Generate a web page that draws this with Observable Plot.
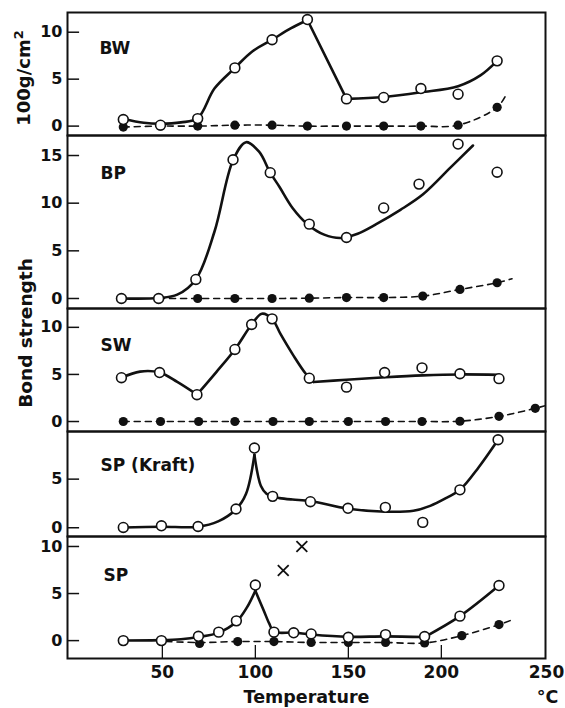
<!DOCTYPE html>
<html>
<head>
<meta charset="utf-8">
<script src="https://cdn.jsdelivr.net/npm/d3@7"></script>
<script src="https://cdn.jsdelivr.net/npm/@observablehq/plot@0.6"></script>
<style>
  html, body { margin: 0; padding: 0; background: #fff; }
  #wrap { position: relative; width: 565px; height: 708px; overflow: hidden; }
  #wrap svg { display: block; }
  .ylab { position: absolute; white-space: nowrap; font-family: "DejaVu Sans", sans-serif;
          font-weight: bold; color: #111; transform: translate(-50%, -50%) rotate(-90deg); }
</style>
</head>
<body>
<div id="wrap"></div>
<script>
// ---------- data ----------
const xTicks = [50, 100, 150, 200];
const xLastTick = "250";
const xUnit = "°C";
const xTitle = "Temperature";
const yTitle = "Bond strength";
const yUnit = "100g/cm";

// BW
const bwT      = [29, 49, 69, 89, 109, 128, 149, 169, 189, 209, 230];
const bwOpen   = [0.7, 0.1, 0.8, 6.2, 9.2, 11.35, 2.9, 3.05, 4.0, 3.4, 6.95];
const bwFT     = [29, 49, 69, 89, 109, 128, 149, 169, 189, 209, 230];
const bwFilled = [-0.1, 0, 0, 0.1, 0.1, 0, 0, 0, 0, 0.1, 2.0];
const bwDashT  = [29, 49, 69, 89, 109, 128, 149, 169, 189, 209, 230, 235];
const bwDashV  = [-0.1, 0, 0, 0.1, 0.1, 0, 0, 0, 0, 0.1, 2.0, 3.4];
const bwCurve = [
  {seg: "a", t: [29, 40, 49, 60, 69, 78, 89, 98, 109, 119, 128], v: [0.75, 0.35, 0.25, 0.4, 0.85, 4.0, 6.2, 7.9, 9.2, 10.4, 11.3]},
  {seg: "b", t: [128, 149], v: [11.3, 2.9]},
  {seg: "c", t: [149, 169, 189, 209, 221, 230], v: [2.9, 3.1, 3.6, 4.25, 5.4, 6.95]}
];

// BP
const bpT      = [28, 48, 68, 88, 108, 129, 149, 169, 188, 209, 230];
const bpOpen   = [0, 0, 2.0, 14.55, 13.2, 7.8, 6.4, 9.5, 12.0, 16.2, 13.25];
const bpFT     = [69, 89, 109, 129, 149, 169, 190, 210, 230];
const bpFilled = [0, 0, 0, 0.03, 0.1, 0.1, 0.25, 0.95, 1.65];
const bpDashT  = [48, 69, 89, 109, 129, 149, 169, 190, 210, 230, 238];
const bpDashV  = [0, 0, 0, 0, 0.03, 0.1, 0.1, 0.25, 0.95, 1.65, 2.07];
const bpCurve = [
  {seg: "a", t: [28, 48, 58, 68, 78, 88, 95, 102, 108, 113, 120, 128, 137, 146, 155, 165, 178, 190, 205, 217],
             v: [0, 0.05, 0.4, 2.0, 7.0, 14.5, 16.4, 15.4, 13.2, 11.7, 9.5, 7.8, 6.7, 6.35, 6.8, 7.8, 9.3, 10.9, 13.75, 16.05]}
];

// SW
const swT      = [28, 48.5, 68.6, 89, 98, 109, 129, 149, 169.5, 189.6, 210, 231];
const swOpen   = [4.65, 5.2, 2.85, 7.65, 10.3, 10.9, 4.6, 3.65, 5.2, 5.7, 5.07, 4.55];
const swFT     = [29, 49, 69.5, 89, 109.5, 129, 150, 170, 189.6, 210, 231, 250.5];
const swFilled = [0, 0, 0, 0, 0, 0, 0, 0, 0, 0.03, 0.55, 1.4];
const swDashT  = [29, 49, 69.5, 89, 109.5, 129, 150, 170, 189.6, 210, 231, 250.5, 258];
const swDashV  = [0, 0, 0, 0, 0, 0, 0, 0, 0, 0.03, 0.55, 1.4, 1.8];
const swCurve = [
  {seg: "a", t: [28, 38, 48.5, 58, 68.6], v: [4.65, 5.3, 5.2, 4.2, 2.85]},
  {seg: "b", t: [68.6, 79, 89, 98, 103.5, 109, 113.5, 120.5, 127, 131.3], v: [2.85, 5.25, 7.65, 10.3, 11.45, 10.9, 9.3, 7.0, 5.1, 4.2]},
  {seg: "c", t: [131.3, 149, 170, 190, 210, 231], v: [4.2, 4.43, 4.7, 4.9, 5.0, 4.95]}
];

// SP (Kraft)
const kT    = [29, 49.5, 69.2, 89.6, 99.5, 109.3, 129.6, 149.8, 169.9, 190, 210, 230.5];
const kOpen = [0.03, 0.2, 0.13, 1.93, 8.2, 3.23, 2.68, 2.0, 2.1, 0.55, 3.9, 9.05];
const kCurve = [
  {seg: "a", t: [29, 49.5, 69.2, 80, 89.6, 95, 99.5], v: [0.03, 0.1, 0.1, 0.65, 1.9, 3.5, 7.5]},
  {seg: "b", t: [99.5, 103, 106, 109.3, 113, 120, 129.6, 150, 170, 185, 194, 203, 210, 220, 230.5],
             v: [7.5, 4.3, 3.5, 3.2, 3.05, 2.9, 2.75, 1.95, 1.65, 1.75, 2.25, 3.1, 3.9, 6.2, 9.05]}
];

// SP
const spT      = [29, 49.5, 69.4, 80.3, 89.8, 100, 110, 120.6, 130, 150, 170, 191, 210, 231];
const spOpen   = [0, 0, 0.46, 0.9, 2.1, 5.9, 0.9, 0.83, 0.71, 0.35, 0.64, 0.43, 2.6, 5.85];
const spFT     = [70, 90.5, 110, 130, 150, 170, 191, 211, 231];
const spFilled = [-0.3, -0.1, -0.1, -0.2, -0.2, -0.2, -0.25, 0.53, 1.7];
const spDashT  = [52, 70, 90.5, 110, 130, 150, 170, 191, 211, 231, 238];
const spDashV  = [-0.1, -0.2, -0.1, -0.1, -0.2, -0.2, -0.2, -0.25, 0.53, 1.7, 2.2];
const spCrossT = [115, 125];
const spCross  = [7.45, 10.0];
const spCurve = [
  {seg: "a", t: [29, 49.5, 60, 69.4, 80.3, 89.8, 95.4, 100], v: [0.02, 0.05, 0.15, 0.38, 0.85, 2.0, 3.5, 5.3]},
  {seg: "b", t: [100, 104.5, 107.5, 110, 120.6, 130, 150, 170, 191], v: [5.3, 3.2, 1.8, 0.95, 0.85, 0.65, 0.4, 0.45, 0.38]},
  {seg: "c", t: [191, 210, 231], v: [0.38, 2.6, 5.85]}
];

// ---------- helpers ----------
const zip = (t, v) => t.map((x, i) => ({t: x, v: v[i]}));
const segs = (c) => c.flatMap(s => s.t.map((x, i) => ({seg: s.seg, t: x, v: s.v[i]})));

const INK = "#111";
const FONT = "'DejaVu Sans', sans-serif";
const xDomain = [-1, 256];

function panel({label, labelDx, labelDy, h, mt = 0, mb = 0, yDomain, yTicks, open, filled, dash, curve, cross, bottom}) {
  const marks = [
    Plot.frame({stroke: INK, strokeWidth: 2}),
    Plot.ruleY(yTicks, {y: d => d, x1: xDomain[0], x2: 5.5, stroke: INK, strokeWidth: 1.5}),
    Plot.axisY(yTicks, {tickSize: 0, tickPadding: 5, fontSize: 16, fontWeight: "bold", label: null, fill: INK}),
    Plot.text([label], {text: d => d, frameAnchor: "top-left", dx: labelDx, dy: labelDy, textAnchor: "start",
                        lineAnchor: "middle", fontSize: 17, fontWeight: "bold", fill: INK})
  ];
  if (dash) marks.push(Plot.line(dash, {x: "t", y: "v", curve: "catmull-rom", stroke: INK, strokeWidth: 1.6,
                                        strokeDasharray: "6,5", clip: true}));
  if (filled) marks.push(Plot.dot(filled, {x: "t", y: "v", r: 4.6, fill: INK, stroke: "none"}));
  marks.push(Plot.line(curve, {x: "t", y: "v", z: "seg", curve: "catmull-rom", stroke: INK, strokeWidth: 2.6}));
  marks.push(Plot.dot(open, {x: "t", y: "v", r: 4.9, fill: "white", stroke: INK, strokeWidth: 1.6}));
  if (cross) marks.push(Plot.dot(cross, {x: "t", y: "v", symbol: "times", r: 5, stroke: INK, strokeWidth: 1.8}));
  if (bottom) {
    marks.push(Plot.ruleX(xTicks, {x: d => d, y1: yDomain[0], y2: yDomain[0] + 1.38, stroke: INK, strokeWidth: 1.3}));
    marks.push(Plot.axisX(xTicks, {tickSize: 0, tickPadding: 7, fontSize: 17, fontWeight: "bold", label: null, fill: INK}));
    marks.push(Plot.text([xLastTick], {text: d => d, frameAnchor: "bottom-right", dx: 1, dy: 7, lineAnchor: "top",
                                       textAnchor: "middle", fontSize: 17, fontWeight: "bold", fill: INK}));
    marks.push(Plot.text([xTitle], {text: d => d, frameAnchor: "bottom", dy: 39, lineAnchor: "middle",
                                    fontSize: 17.5, fontWeight: "bold", fill: INK}));
    marks.push(Plot.text([xUnit], {text: d => d, frameAnchor: "bottom-right", dx: 2, dy: 39, lineAnchor: "middle",
                                   textAnchor: "middle", fontSize: 17.5, fontWeight: "bold", fill: INK}));
  }
  return Plot.plot({
    width: 565,
    height: h + mt + mb,
    marginLeft: 67, marginRight: 20, marginTop: mt, marginBottom: mb,
    x: bottom ? {domain: xDomain} : {domain: xDomain, axis: null},
    y: {domain: yDomain, label: null},
    style: {fontFamily: FONT, fontWeight: "bold", color: INK, background: "white", overflow: "visible"},
    marks
  });
}

const wrap = document.getElementById("wrap");
const panels = [
  panel({label: "BW", labelDx: 32, labelDy: 36, h: 123, mt: 12, yDomain: [-1, 12.1], yTicks: [0, 5, 10],
         open: zip(bwT, bwOpen), filled: zip(bwFT, bwFilled), dash: zip(bwDashT, bwDashV), curve: segs(bwCurve)}),
  panel({label: "BP", labelDx: 33, labelDy: 38, h: 173, yDomain: [-1.05, 17.1], yTicks: [0, 5, 10, 15],
         open: zip(bpT, bpOpen), filled: zip(bpFT, bpFilled), dash: zip(bpDashT, bpDashV), curve: segs(bpCurve)}),
  panel({label: "SW", labelDx: 33, labelDy: 37, h: 123, yDomain: [-1.06, 12.0], yTicks: [0, 5, 10],
         open: zip(swT, swOpen), filled: zip(swFT, swFilled), dash: zip(swDashT, swDashV), curve: segs(swCurve)}),
  panel({label: "SP (Kraft)", labelDx: 33, labelDy: 34, h: 105, yDomain: [-0.9, 9.9], yTicks: [0, 5],
         open: zip(kT, kOpen), curve: segs(kCurve)}),
  panel({label: "SP", labelDx: 36, labelDy: 39, h: 122, mb: 50, yDomain: [-1.9, 11.06], yTicks: [0, 5, 10],
         open: zip(spT, spOpen), filled: zip(spFT, spFilled), dash: zip(spDashT, spDashV), curve: segs(spCurve),
         cross: zip(spCrossT, spCross), bottom: true})
];
panels.forEach(p => wrap.appendChild(p));

const l1 = document.createElement("div");
l1.className = "ylab";
l1.style.left = "22px"; l1.style.top = "78px"; l1.style.fontSize = "18px";
l1.innerHTML = yUnit + "<sup style='font-size:13px'>2</sup>";
wrap.appendChild(l1);

const l2 = document.createElement("div");
l2.className = "ylab";
l2.style.left = "25px"; l2.style.top = "333px"; l2.style.fontSize = "18.5px";
l2.textContent = yTitle;
wrap.appendChild(l2);
</script>
</body>
</html>
